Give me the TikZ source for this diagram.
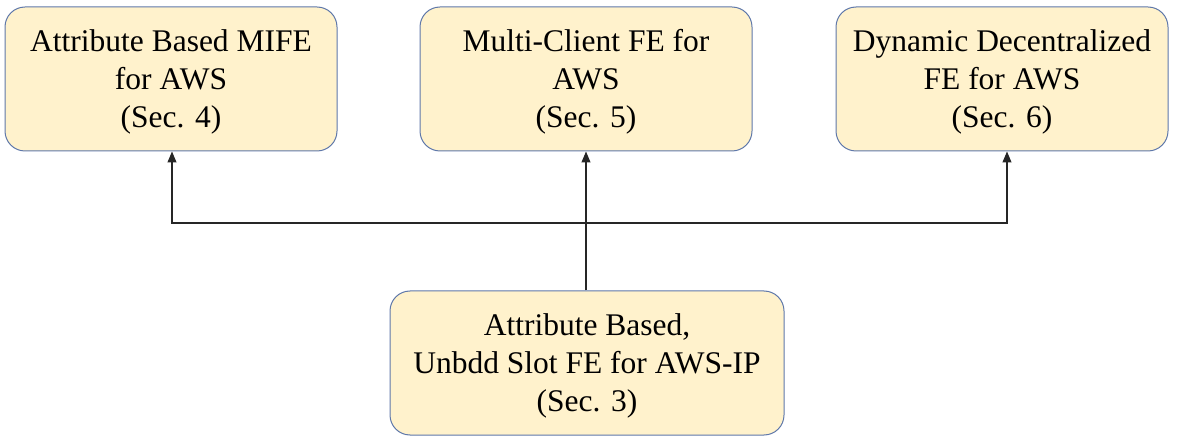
\documentclass[tikz,border=0pt]{standalone}
\usepackage{fontspec}
\setmainfont{Liberation Serif}
\newfontfamily\tnr{Liberation Serif}
\usetikzlibrary{arrows.meta}
\definecolor{boxfill}{RGB}{255,242,204}
\definecolor{boxline}{RGB}{95,120,170}
\tikzset{
  secbox/.style={draw=boxline, fill=boxfill, line width=1pt, rounded corners=20pt,
    minimum width=332pt, minimum height=144pt, align=center, inner sep=0pt,
    text height=104pt, text depth=7pt,
    font=\tnr\fontsize{31.5}{38}\selectfont},
  conn/.style={draw=black!85, line width=1.1pt},
  tip/.style={-{Triangle[length=11pt,width=9pt]}}
}
\begin{document}
\begin{tikzpicture}[x=1pt,y=1pt]
\useasboundingbox (0,0) rectangle (1179,437);
\node[secbox] (a) at (171,358) {Attribute Based MIFE\\for AWS\\(Sec. 4)};
\node[secbox] (b) at (586,358) {Multi-Client FE for\\AWS\\(Sec. 5)};
\node[secbox] (c) at (1002,358) {Dynamic Decentralized\\FE for AWS\\(Sec. 6)};
\node[secbox, minimum width=394pt] (d) at (587,74) {Attribute Based,\\Unbdd Slot FE for AWS-IP\\(Sec. 3)};
\coordinate (j) at (586,214);
\coordinate (ja) at (172,214);
\coordinate (jc) at (1007,214);
\draw[conn] (d.north -| j) -- (j);
\draw[conn, tip] (j) -- (b.south -| j);
\draw[conn, tip] (j) -- (ja) -- (a.south -| ja);
\draw[conn, tip] (j) -- (jc) -- (c.south -| jc);
\end{tikzpicture}
\end{document}
